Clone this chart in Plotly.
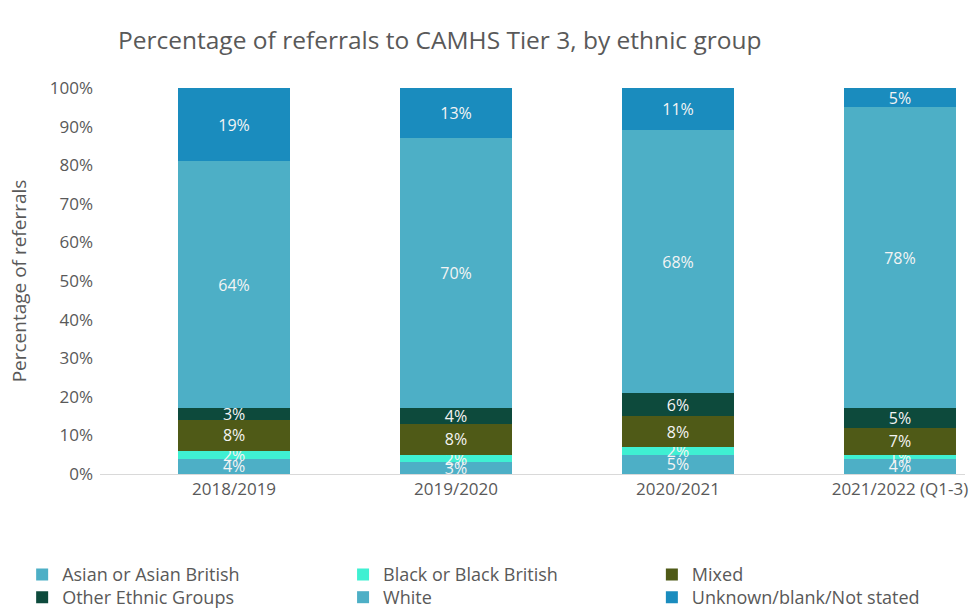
import plotly.graph_objects as go

# Referral shares (%) by ethnic group and financial year
years = ["2018/2019", "2019/2020", "2020/2021", "2021/2022 (Q1-3)"]
asian = [4, 3, 5, 4]
black = [2, 2, 2, 1]
mixed = [8, 8, 8, 7]
other = [3, 4, 6, 5]
white = [64, 70, 68, 78]
unknown = [19, 13, 11, 5]

# (name, values, colour)
groups = [
    ("Asian or Asian British", asian, "#4DAFC6"),
    ("Black or Black British", black, "#3FF0D2"),
    ("Mixed", mixed, "#4F5A17"),
    ("Other Ethnic Groups", other, "#0D4A3C"),
    ("White", white, "#4DAFC6"),
    ("Unknown/blank/Not stated", unknown, "#1A8CBE"),
]

FONT = "Open Sans"
GREY = "#595959"

# legend grid: three columns, two rows (paper coordinates)
legend_cols = [-0.090, 0.281, 0.638]
legend_rows = [-0.213, -0.272]

fig = go.Figure()
legend_layout = {}
for i, (name, vals, color) in enumerate(groups):
    key = "legend" if i == 0 else f"legend{i + 1}"
    fig.add_trace(go.Bar(
        x=years,
        y=vals,
        name=name,
        legend=key,
        marker=dict(color=color, line=dict(width=0)),
        width=0.505,
        text=[f"{v}%" for v in vals],
        textposition="inside",
        insidetextanchor="middle",
        constraintext="none",
        textfont=dict(family=FONT, size=16, color="#F4F4F4"),
        hoverinfo="skip",
    ))
    legend_layout[key] = dict(
        orientation="v",
        x=legend_cols[i % 3],
        xanchor="left",
        y=legend_rows[i // 3],
        yanchor="top",
        font=dict(family=FONT, size=18, color=GREY),
        itemwidth=30,
        bgcolor="rgba(0,0,0,0)",
    )

fig.update_layout(
    barmode="stack",
    width=973,
    height=609,
    paper_bgcolor="white",
    plot_bgcolor="white",
    margin=dict(l=100, r=8, t=88, b=135, autoexpand=False),
    title=dict(
        text="Percentage of referrals to CAMHS Tier 3, by ethnic group",
        x=118 / 973, xanchor="left",
        y=1 - 40 / 609, yanchor="middle",
        font=dict(family=FONT, size=24.5, color=GREY),
    ),
    font=dict(family=FONT, color=GREY),
    xaxis=dict(
        range=[-0.604, 3.293],
        showgrid=False,
        showline=True,
        linecolor="#D9D9D9",
        linewidth=1,
        ticks="",
        tickfont=dict(size=17, color=GREY),
    ),
    yaxis=dict(
        range=[0, 100],
        dtick=10,
        ticksuffix="%",
        showgrid=False,
        zeroline=False,
        ticks="",
        ticklabelstandoff=6,
        tickfont=dict(size=17, color=GREY),
        title=dict(text="Percentage of referrals",
                   font=dict(size=19, color=GREY), standoff=18),
    ),
    showlegend=True,
    **legend_layout,
)

fig.write_html("out.html")
